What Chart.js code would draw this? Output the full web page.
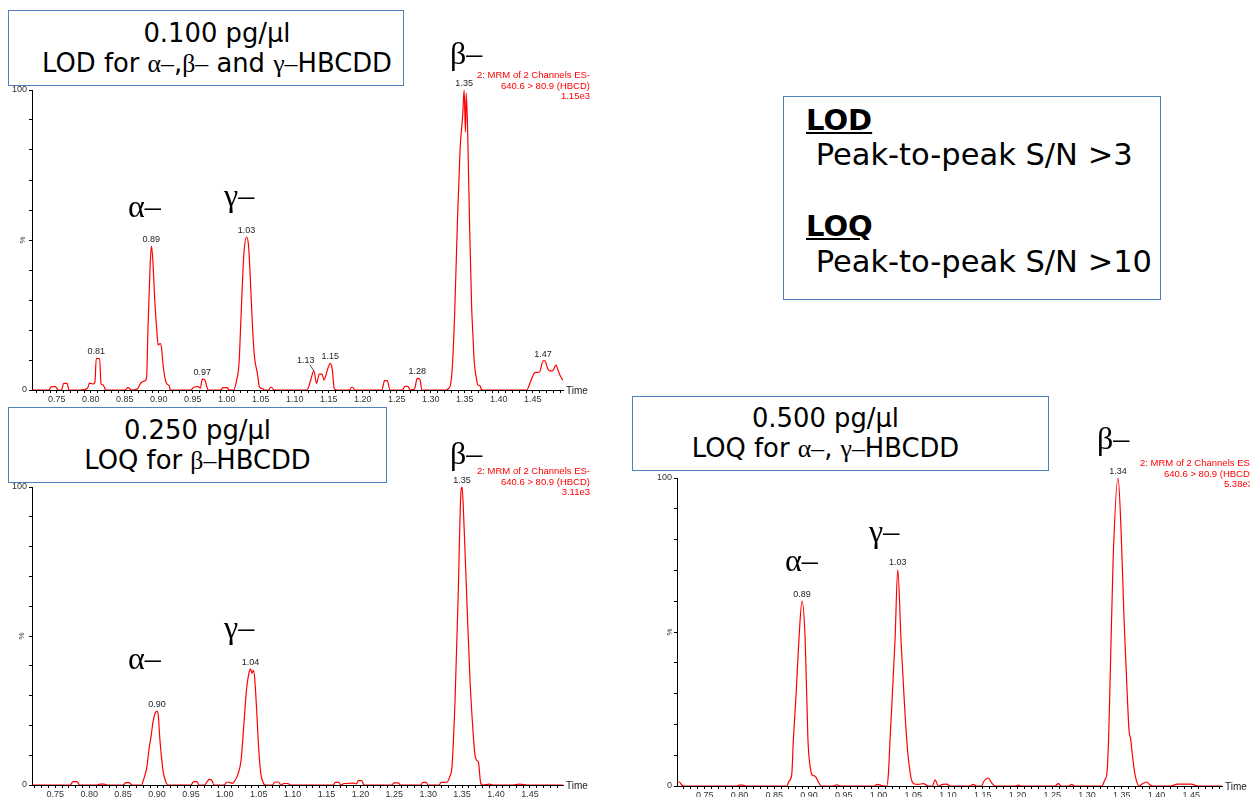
<!DOCTYPE html>
<html>
<head>
<meta charset="utf-8">
<script src="https://cdn.jsdelivr.net/npm/chart.js@4.4.1/dist/chart.umd.min.js"></script>
<style>
  html, body { margin: 0; padding: 0; background: #fff; width: 1250px; height: 797px; overflow: hidden; }
  body { position: relative; font-family: 'DejaVu Sans', Verdana, sans-serif; color: #000; }
  canvas { position: absolute; }
  .box { position: absolute; border: 1.5px solid #4f81bd; background: #fff; box-sizing: border-box; z-index: 2;
         display: flex; flex-direction: column; justify-content: center; align-items: center;
         font-size: 25.8px; line-height: 30px; white-space: nowrap; }
  .gk { font-family: 'Liberation Serif', 'Times New Roman', serif; }
  .greek { position: absolute; font-family: 'Liberation Serif', 'Times New Roman', serif; font-size: 32px; line-height: 32px; z-index: 3; white-space: nowrap; }
  .mrm { position: absolute; font-family: 'Liberation Sans', Arial, sans-serif; font-size: 9.5px; line-height: 10.5px; color: #f00; text-align: right; white-space: nowrap; z-index: 1; }
  .crit { position: absolute; font-size: 30.5px; line-height: 34px; white-space: nowrap; z-index: 3; }
  .crit b { font-size: 29px; text-decoration: underline; }
</style>
</head>
<body>

<canvas id="lod" width="600" height="345" style="left:0;top:60px"></canvas>
<canvas id="loq250" width="600" height="355" style="left:0;top:455px"></canvas>
<canvas id="loq500" width="610" height="365" style="left:640px;top:445px"></canvas>

<div class="box" style="left:8px;top:10px;width:396px;height:76px;padding-left:22px">
  <div>0.100 pg/µl</div>
  <div>LOD for <span class="gk">α–</span>,<span class="gk">β–</span> and <span class="gk">γ–</span>HBCDD</div>
</div>
<div class="box" style="left:8px;top:407px;width:379px;height:76px">
  <div>0.250 pg/µl</div>
  <div>LOQ for <span class="gk">β–</span>HBCDD</div>
</div>
<div class="box" style="left:632px;top:396px;width:417px;height:75px;padding-right:30px">
  <div>0.500 pg/µl</div>
  <div>LOQ for <span class="gk">α–</span>, <span class="gk">γ–</span>HBCDD</div>
</div>

<div class="box" style="left:783px;top:96px;width:378px;height:204px"></div>
<div class="crit" style="left:806px;top:103px"><b>LOD</b></div>
<div class="crit" style="left:806px;top:138px">&nbsp;Peak-to-peak S/N &gt;3</div>
<div class="crit" style="left:806px;top:209px"><b>LOQ</b></div>
<div class="crit" style="left:806px;top:245px">&nbsp;Peak-to-peak S/N &gt;10</div>

<div class="greek" style="left:128px;top:190px">α–</div>
<div class="greek" style="left:224px;top:179px">γ–</div>
<div class="greek" style="left:450px;top:37px">β–</div>
<div class="greek" style="left:128px;top:642px">α–</div>
<div class="greek" style="left:224px;top:611px">γ–</div>
<div class="greek" style="left:450px;top:437px">β–</div>
<div class="greek" style="left:785px;top:544px">α–</div>
<div class="greek" style="left:869px;top:515px">γ–</div>
<div class="greek" style="left:1097px;top:422px">β–</div>

<div class="mrm" style="left:420px;top:70px;width:170px">2: MRM of 2 Channels ES-<br>640.6 &gt; 80.9 (HBCD)<br>1.15e3</div>
<div class="mrm" style="left:420px;top:466px;width:170px">2: MRM of 2 Channels ES-<br>640.6 &gt; 80.9 (HBCD)<br>3.11e3</div>
<div class="mrm" style="left:1083px;top:458px;width:170px">2: MRM of 2 Channels ES-<br>640.6 &gt; 80.9 (HBCD)<br>5.38e3</div>

<script>
// 0.100 pg/ul run (LOD), retention time (min) vs relative intensity (%)
const lodTime = [
  0.7135, 0.738, 0.742, 0.748, 0.752, 0.757, 0.760, 0.765, 0.768, 0.785,
  0.795, 0.798, 0.803, 0.806, 0.808, 0.813, 0.815, 0.818, 0.822, 0.850,
  0.855, 0.860, 0.868, 0.874, 0.879, 0.882, 0.884, 0.887, 0.889, 0.891,
  0.894, 0.897, 0.899, 0.902, 0.904, 0.906, 0.909, 0.912, 0.915, 0.917,
  0.947, 0.952, 0.958, 0.961, 0.964, 0.968, 0.970, 0.973, 0.990, 0.995,
  1.000, 1.004, 1.010, 1.014, 1.018, 1.021, 1.025, 1.029, 1.032, 1.035,
  1.038, 1.041, 1.045, 1.048, 1.052, 1.056, 1.061, 1.065, 1.070, 1.118,
  1.123, 1.128, 1.132, 1.136, 1.140, 1.143, 1.147, 1.152, 1.155, 1.158,
  1.162, 1.180, 1.184, 1.189, 1.228, 1.232, 1.236, 1.240, 1.258, 1.262,
  1.266, 1.270, 1.276, 1.280, 1.284, 1.287, 1.323, 1.326, 1.329, 1.332,
  1.335, 1.339, 1.343, 1.347, 1.349, 1.351, 1.352, 1.354, 1.357, 1.360,
  1.362, 1.364, 1.367, 1.369, 1.372, 1.375, 1.441, 1.447, 1.453, 1.460,
  1.465, 1.468, 1.472, 1.475, 1.479, 1.484, 1.488, 1.491, 1.4944
];
const lodPct = [
  0, 0, 1.1, 1.1, 0, 0, 2.2, 2.2, 0, 0,
  0.5, 2.3, 2.0, 2.6, 10.5, 10.5, 2, 1.7, 0, 0,
  0.8, 0, 0.3, 2.5, 3, 4, 20, 40, 48, 44,
  30, 20, 15, 15.5, 14, 9, 4, 2, 1.5, 0,
  0, 1, 1.1, 0.6, 3.6, 3.3, 1.5, 0, 0, 0.8,
  0.8, 0, 0, 2.8, 9, 25, 45, 51, 48, 35,
  20, 10.5, 5.5, 1, 0.5, 0, 0, 1, 0, 0,
  3, 6.4, 2.2, 5.3, 5.3, 3.3, 6, 8.9, 7, 0.5,
  0, 0, 1, 0, 0, 3.1, 3.1, 0, 0, 1.2,
  1.2, 0, 0.3, 3.9, 3.5, 0, 0, 0.5, 1.7, 9,
  25, 55, 80, 92, 100, 86, 99, 88, 55, 28,
  18, 9, 4, 1.7, 1.5, 0, 0, 3, 5.8, 6,
  9.7, 9.7, 7, 6.4, 6.4, 8.3, 6, 4.4, 3.3
];
const lodPeaks = [0.81, 0.89, 0.97, 1.03, 1.13, 1.15, 1.28, 1.35, 1.47];

// 0.250 pg/ul run (LOQ for beta)
const loq250Time = [
  0.7156, 0.772, 0.776, 0.782, 0.786, 0.812, 0.816, 0.822, 0.826, 0.850,
  0.854, 0.859, 0.863, 0.877, 0.880, 0.885, 0.888, 0.891, 0.894, 0.897,
  0.900, 0.902, 0.904, 0.906, 0.909, 0.913, 0.916, 0.950, 0.954, 0.959,
  0.962, 0.970, 0.973, 0.977, 0.981, 0.984, 0.999, 1.003, 1.008, 1.011,
  1.014, 1.019, 1.024, 1.028, 1.032, 1.036, 1.038, 1.040, 1.042, 1.044,
  1.047, 1.050, 1.053, 1.057, 1.060, 1.070, 1.074, 1.079, 1.083, 1.087,
  1.093, 1.097, 1.160, 1.163, 1.168, 1.171, 1.176, 1.190, 1.194, 1.197,
  1.202, 1.205, 1.246, 1.250, 1.256, 1.259, 1.289, 1.292, 1.297, 1.300,
  1.316, 1.319, 1.324, 1.328, 1.332, 1.335, 1.3395, 1.344, 1.348, 1.350,
  1.3525, 1.357, 1.3617, 1.3661, 1.369, 1.371, 1.374, 1.3775, 1.381, 1.390,
  1.395, 1.425, 1.435, 1.445, 1.4988
];
const loq250Pct = [
  0, 0, 1.1, 1.1, 0, 0, 0.3, 0.3, 0, 0,
  0.8, 0.8, 0, 0, 1.7, 6, 11.7, 16, 21, 24,
  24.8, 23, 16, 10.7, 4.5, 1.1, 0, 0, 1.1, 1.1,
  0, 0, 0.8, 1.9, 1.5, 0, 0, 1, 0.8, 0.5,
  1.2, 3.4, 8.4, 20, 32, 38, 39, 37.5, 38.5, 36,
  25, 12, 4, 0.6, 0, 0, 1, 1, 0, 0.5,
  0.5, 0, 0, 0.9, 0.9, 0, 0.5, 0.6, 0.4, 1.5,
  1.5, 0, 0, 0.7, 0.7, 0, 0, 0.9, 0.9, 0,
  0, 0.9, 0.9, 1, 3, 6, 28, 62, 97, 100,
  89, 62, 35, 18, 10, 8.4, 7.7, 0.6, 0, 0.3,
  0, 0, 0.3, 0, 0
];
const loq250Peaks = [0.90, 1.04, 1.35];

// 0.500 pg/ul run (LOQ for alpha, gamma)
const loq500Time = [
  0.7101, 0.7135, 0.717, 0.720, 0.796, 0.800, 0.805, 0.809, 0.868, 0.8713,
  0.8752, 0.8775, 0.8815, 0.8855, 0.890, 0.8945, 0.8985, 0.9015, 0.904, 0.9063,
  0.9097, 0.9135, 0.9183, 0.935, 0.940, 0.945, 0.994, 0.998, 1.003, 1.008,
  1.0119, 1.0142, 1.0166, 1.0238, 1.0277, 1.0324, 1.0406, 1.0454, 1.0501, 1.0573,
  1.0645, 1.0713, 1.0775, 1.0814, 1.0861, 1.092, 1.098, 1.103, 1.131, 1.1365,
  1.141, 1.1485, 1.151, 1.158, 1.163, 1.1677, 1.197, 1.2012, 1.205, 1.254,
  1.2588, 1.263, 1.274, 1.278, 1.282, 1.3212, 1.326, 1.3285, 1.331, 1.3332,
  1.3375, 1.3447, 1.349, 1.3533, 1.3576, 1.3605, 1.363, 1.3645, 1.369, 1.3753,
  1.3788, 1.386, 1.3907, 1.395, 1.420, 1.430, 1.450, 1.460, 1.4942
];
const loq500Pct = [
  1.3, 1.3, 0.3, 0, 0, 0.3, 0.3, 0, 0, 1.6,
  3.8, 15, 30, 47.5, 60, 47.5, 15, 6.5, 3.8, 3.4,
  3, 1.3, 0, 0, 0.4, 0, 0, 0.5, 0.3, 0,
  0, 3.8, 15, 47.5, 70.3, 47.5, 15, 4.5, 0.8, 0.5,
  0.8, 0, 0, 2, 0, 0.5, 0.6, 0, 0, 0.5,
  0, 0, 1.3, 2.6, 0.9, 0, 0, 0.3, 0, 0,
  0.8, 0, 0, 0.5, 0, 0, 2.2, 3.8, 15, 34,
  73, 100, 83, 54, 31, 18, 15, 11.6, 3.8, 0,
  0.6, 1.3, 0.3, 0, 0, 0.6, 0.6, 0, 0
];
const loq500Peaks = [0.89, 1.03, 1.34];

const yLabelled = [0, 100];
const sansFont = '"Liberation Sans", Arial, sans-serif';

const toPoints = (times, pct) => times.map((t, i) => ({ x: t, y: pct[i] }));

const peakMarks = (times, pct, peaks, shifts) => ({
  id: 'peakMarks',
  afterDraw(chart) {
    const { ctx, chartArea } = chart;
    const { x, y } = chart.scales;
    ctx.save();
    ctx.fillStyle = '#222';
    ctx.strokeStyle = '#222';
    ctx.lineWidth = 0.8;
    ctx.font = `9px ${sansFont}`;
    ctx.textAlign = 'center';
    ctx.textBaseline = 'bottom';
    peaks.forEach((p) => {
      let best = -1;
      times.forEach((t, i) => {
        if (Math.abs(t - p) <= 0.012 && (best < 0 || pct[i] > pct[best])) best = i;
      });
      const px = x.getPixelForValue(times[best]);
      const py = y.getPixelForValue(pct[best]);
      const shift = shifts[p.toFixed(2)];
      if (shift) {
        ctx.beginPath();
        ctx.moveTo(px - 4, py - 6);
        ctx.lineTo(px, py);
        ctx.stroke();
        ctx.fillText(p.toFixed(2), px + shift[0], py + shift[1]);
      } else {
        ctx.fillText(p.toFixed(2), px, py - 2);
      }
    });
    ctx.font = `10px ${sansFont}`;
    ctx.textAlign = 'left';
    ctx.textBaseline = 'middle';
    ctx.fillText('Time', chartArea.right + 3, chartArea.bottom + 1);
    ctx.restore();
  }
});

const makeChart = (id, run) => {
  const canvas = document.getElementById(id);
  return new Chart(canvas, {
    type: 'line',
    data: {
      datasets: [{
        data: toPoints(run.times, run.pct),
        borderColor: '#ff0000',
        borderWidth: 1.2,
        pointRadius: 0,
        cubicInterpolationMode: 'monotone',
        fill: false
      }]
    },
    options: {
      responsive: false,
      animation: false,
      layout: { padding: { top: run.padTop, right: run.padRight, left: 0, bottom: 0 } },
      plugins: { legend: { display: false }, tooltip: { enabled: false } },
      scales: {
        x: {
          type: 'linear',
          min: run.xMin,
          max: run.xMax,
          afterFit: (s) => { s.height = run.xHeight; },
          ticks: {
            stepSize: 0.01,
            includeBounds: false,
            autoSkip: false,
            maxRotation: 0,
            minRotation: 0,
            padding: 1,
            color: '#333',
            font: { size: 9, family: sansFont },
            callback: (v) => (Math.round(v * 100) % 5 === 0 ? v.toFixed(2) : '')
          },
          grid: { drawOnChartArea: false, tickLength: 3, color: '#000' },
          border: { color: '#000', width: 1 }
        },
        y: {
          min: 0,
          max: 100,
          afterFit: (s) => { s.width = run.yWidth; },
          ticks: {
            stepSize: 10,
            padding: 2,
            color: '#333',
            font: { size: 9, family: sansFont },
            callback: (v) => (yLabelled.includes(v) ? String(v) : '')
          },
          title: { display: true, text: '%', color: '#333', font: { size: 8, family: sansFont }, padding: { top: run.titlePad, bottom: 0 } },
          grid: { drawOnChartArea: false, tickLength: 3, color: '#000' },
          border: { color: '#000', width: 1 }
        }
      }
    },
    plugins: [peakMarks(run.times, run.pct, run.peaks, run.shifts || {})]
  });
};

makeChart('lod', {
  times: lodTime, pct: lodPct, peaks: lodPeaks, shifts: { '1.13': [-8, -6] },
  xMin: 0.7135, xMax: 1.4944, padTop: 30, padRight: 37, xHeight: 15, yWidth: 32, titlePad: 18
});
makeChart('loq250', {
  times: loq250Time, pct: loq250Pct, peaks: loq250Peaks,
  xMin: 0.7156, xMax: 1.4988, padTop: 32, padRight: 37, xHeight: 25, yWidth: 32, titlePad: 17
});
makeChart('loq500', {
  times: loq500Time, pct: loq500Pct, peaks: loq500Peaks,
  xMin: 0.7101, xMax: 1.4942, padTop: 33, padRight: 28, xHeight: 24, yWidth: 37, titlePad: 25
});
</script>
</body>
</html>
